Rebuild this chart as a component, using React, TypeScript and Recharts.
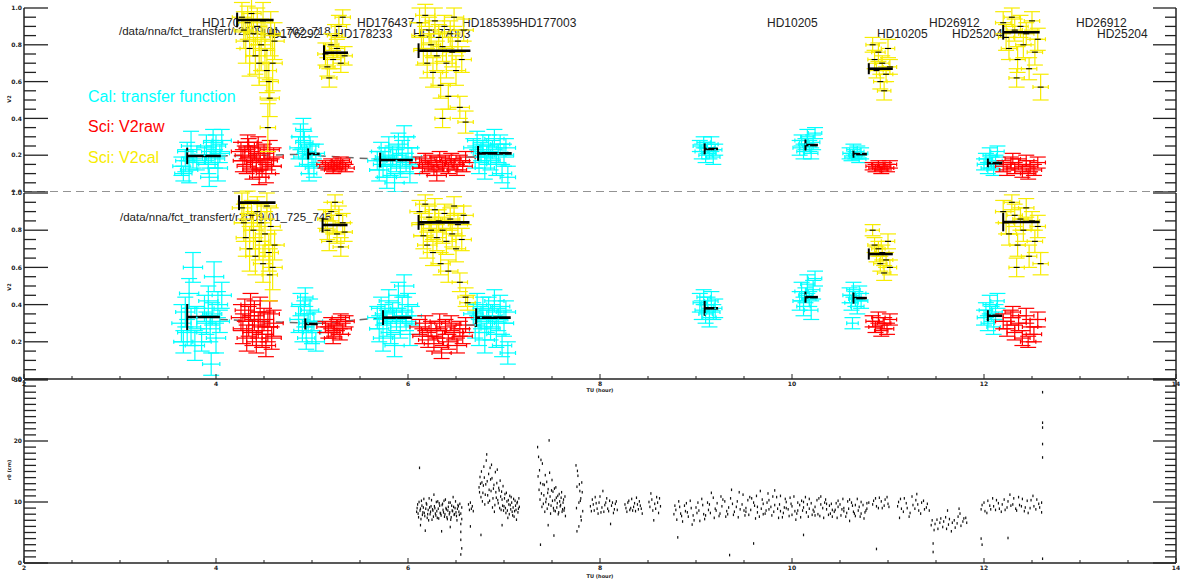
import React from 'react';
import { ComposedChart, Scatter, Line, XAxis, YAxis, ErrorBar, ReferenceLine } from 'recharts';

// [hour, V2, x error (h), y error]
type Pt = [number, number, number, number];

const CYAN = '#00ffff';
const RED = '#ff0000';
const YELLOW = '#f7ec00';
const AXIS = '#222';

const hourTicks = [2, 2.5, 3, 3.5, 4, 4.5, 5, 5.5, 6, 6.5, 7, 7.5, 8, 8.5, 9, 9.5, 10, 10.5, 11, 11.5, 12, 12.5, 13, 13.5, 14];
const hourLabels = [2, 4, 6, 8, 10, 12, 14];
const v2Ticks = [0, 0.05, 0.1, 0.15, 0.2, 0.25, 0.3, 0.35, 0.4, 0.45, 0.5, 0.55, 0.6, 0.65, 0.7, 0.75, 0.8, 0.85, 0.9, 0.95, 1];
const v2Labels = [0, 0.2, 0.4, 0.6, 0.8, 1];
const r0Ticks = [0, 1, 2, 3, 4, 5, 6, 7, 8, 9, 10, 11, 12, 13, 14, 15, 16, 17, 18, 19, 20, 21, 22, 23, 24, 25, 26, 27, 28, 29, 30];
const r0Labels = [0, 10, 20, 30];

// ---------- upper panel ----------
const calTop: Pt[] = [
  [3.64,0.14,0.09,0.05],[3.66,0.1,0.09,0.04],[3.68,0.17,0.1,0.06],[3.7,0.22,0.1,0.05],[3.72,0.12,0.09,0.07],[3.74,0.25,0.1,0.08],[3.76,0.18,0.1,0.05],[3.8,0.16,0.09,0.04],[3.88,0.2,0.1,0.05],[3.9,0.24,0.1,0.07],[3.92,0.15,0.1,0.05],[3.95,0.22,0.1,0.06],[3.97,0.27,0.1,0.07],[3.99,0.18,0.1,0.05],[4.0,0.25,0.1,0.06],[4.02,0.13,0.1,0.07],[4.04,0.21,0.1,0.05],[4.06,0.28,0.1,0.06],[3.93,0.08,0.09,0.05],
  [4.86,0.24,0.09,0.06],[4.88,0.3,0.09,0.07],[4.9,0.19,0.09,0.05],[4.92,0.27,0.09,0.06],[4.94,0.22,0.09,0.04],[4.96,0.15,0.09,0.05],[4.98,0.25,0.09,0.05],[5.0,0.2,0.09,0.06],[5.02,0.13,0.09,0.05],[5.04,0.21,0.09,0.05],[4.91,0.34,0.08,0.06],[4.97,0.1,0.08,0.04],
  [5.68,0.17,0.1,0.05],[5.7,0.12,0.1,0.06],[5.72,0.22,0.1,0.05],[5.74,0.15,0.1,0.07],[5.76,0.19,0.1,0.05],[5.78,0.08,0.1,0.06],[5.8,0.24,0.1,0.06],[5.82,0.14,0.1,0.05],[5.84,0.2,0.1,0.05],[5.86,0.05,0.1,0.05],[5.88,0.17,0.1,0.06],[5.9,0.26,0.1,0.06],[5.92,0.13,0.1,0.05],[5.94,0.21,0.1,0.07],[5.96,0.3,0.1,0.06],[5.98,0.16,0.1,0.05],[6.0,0.24,0.1,0.06],[6.02,0.1,0.1,0.05],[6.04,0.19,0.1,0.05],
  [6.68,0.24,0.1,0.05],[6.7,0.19,0.1,0.06],[6.72,0.28,0.1,0.05],[6.74,0.16,0.1,0.06],[6.76,0.22,0.1,0.05],[6.78,0.26,0.1,0.05],[6.8,0.13,0.1,0.06],[6.82,0.2,0.1,0.05],[6.84,0.25,0.1,0.06],[6.86,0.17,0.1,0.05],[6.88,0.23,0.1,0.05],[6.9,0.29,0.1,0.05],[6.92,0.15,0.1,0.06],[6.94,0.21,0.1,0.05],[6.96,0.26,0.1,0.05],[6.98,0.1,0.1,0.05],[7.0,0.2,0.1,0.06],[7.02,0.24,0.1,0.05],[7.04,0.08,0.08,0.06],
  [9.04,0.25,0.07,0.03],[9.06,0.22,0.07,0.04],[9.08,0.27,0.07,0.03],[9.1,0.2,0.07,0.04],[9.12,0.24,0.07,0.03],[9.14,0.21,0.07,0.03],[9.16,0.26,0.07,0.04],[9.18,0.19,0.07,0.04],[9.2,0.23,0.07,0.03],
  [10.08,0.24,0.07,0.04],[10.1,0.28,0.07,0.03],[10.12,0.22,0.07,0.04],[10.14,0.26,0.07,0.03],[10.16,0.3,0.07,0.04],[10.18,0.25,0.07,0.03],[10.2,0.21,0.07,0.03],[10.22,0.27,0.07,0.04],[10.24,0.32,0.07,0.03],
  [10.6,0.21,0.07,0.03],[10.62,0.19,0.07,0.02],[10.64,0.23,0.07,0.03],[10.66,0.2,0.07,0.02],[10.68,0.22,0.07,0.03],[10.7,0.18,0.07,0.02],[10.72,0.21,0.07,0.03],
  [12.0,0.15,0.07,0.03],[12.02,0.18,0.07,0.03],[12.04,0.13,0.07,0.03],[12.06,0.2,0.07,0.04],[12.08,0.16,0.07,0.03],[12.1,0.12,0.07,0.03],[12.12,0.17,0.07,0.03],[12.14,0.22,0.07,0.03],
];
const rawTop: Pt[] = [
  [4.26,0.22,0.1,0.05],[4.28,0.17,0.1,0.06],[4.3,0.2,0.1,0.05],[4.32,0.14,0.1,0.04],[4.34,0.24,0.1,0.05],[4.36,0.19,0.1,0.06],[4.38,0.12,0.1,0.05],[4.4,0.22,0.1,0.05],[4.42,0.16,0.1,0.05],[4.44,0.25,0.1,0.05],[4.46,0.18,0.1,0.06],[4.48,0.13,0.1,0.05],[4.5,0.21,0.1,0.05],[4.52,0.1,0.1,0.05],[4.54,0.17,0.1,0.05],[4.56,0.23,0.1,0.05],[4.58,0.14,0.1,0.04],[4.6,0.19,0.1,0.05],[4.45,0.08,0.1,0.04],[4.33,0.27,0.1,0.04],
  [5.14,0.15,0.09,0.02],[5.17,0.14,0.09,0.02],[5.2,0.16,0.09,0.02],[5.23,0.13,0.09,0.02],[5.26,0.15,0.09,0.02],[5.29,0.14,0.09,0.02],[5.32,0.16,0.09,0.02],[5.35,0.13,0.09,0.02],[5.22,0.12,0.09,0.02],[5.3,0.17,0.09,0.02],
  [6.12,0.16,0.1,0.03],[6.15,0.13,0.1,0.03],[6.18,0.18,0.1,0.03],[6.21,0.14,0.1,0.03],[6.24,0.17,0.1,0.03],[6.27,0.12,0.1,0.03],[6.3,0.16,0.1,0.03],[6.33,0.19,0.1,0.03],[6.36,0.14,0.1,0.03],[6.39,0.17,0.1,0.03],[6.42,0.13,0.1,0.03],[6.45,0.18,0.1,0.03],[6.48,0.15,0.1,0.03],[6.51,0.12,0.1,0.03],[6.54,0.17,0.1,0.03],[6.57,0.14,0.1,0.03],[6.6,0.19,0.1,0.03],[6.3,0.09,0.1,0.03],
  [10.84,0.14,0.07,0.02],[10.87,0.13,0.07,0.02],[10.9,0.15,0.07,0.02],[10.93,0.12,0.07,0.02],[10.96,0.14,0.07,0.02],[10.99,0.13,0.07,0.02],[11.02,0.15,0.07,0.02],
  [12.2,0.14,0.08,0.03],[12.24,0.12,0.08,0.03],[12.28,0.16,0.08,0.03],[12.32,0.13,0.08,0.03],[12.36,0.15,0.08,0.03],[12.4,0.11,0.08,0.03],[12.44,0.17,0.08,0.03],[12.48,0.14,0.08,0.03],[12.52,0.12,0.08,0.03],[12.56,0.16,0.08,0.03],[12.3,0.18,0.08,0.03],[12.46,0.1,0.08,0.03],
];
const v2calTop: Pt[] = [
  [4.27,0.95,0.1,0.08],[4.29,0.88,0.1,0.1],[4.31,0.82,0.1,0.12],[4.33,0.92,0.1,0.09],[4.35,0.78,0.1,0.15],[4.37,0.97,0.1,0.1],[4.39,0.86,0.1,0.12],[4.41,0.74,0.1,0.1],[4.43,0.9,0.1,0.1],[4.45,0.7,0.1,0.12],[4.47,0.8,0.1,0.14],[4.49,0.93,0.1,0.1],[4.51,0.77,0.1,0.15],[4.53,0.66,0.1,0.12],[4.55,0.6,0.1,0.1],[4.56,0.51,0.1,0.1],[4.57,0.86,0.1,0.12],[4.54,0.35,0.08,0.13],[4.59,0.7,0.1,0.15],[4.61,0.82,0.1,0.1],
  [5.14,0.75,0.08,0.06],[5.16,0.68,0.08,0.05],[5.18,0.62,0.08,0.05],[5.2,0.8,0.08,0.06],[5.22,0.72,0.08,0.05],[5.24,0.85,0.08,0.06],[5.26,0.78,0.08,0.05],[5.28,0.9,0.08,0.06],[5.3,0.7,0.08,0.05],[5.32,0.95,0.08,0.04],[5.34,0.74,0.08,0.05],
  [6.12,0.92,0.1,0.08],[6.14,0.85,0.1,0.07],[6.16,0.77,0.1,0.08],[6.18,0.96,0.1,0.06],[6.2,0.7,0.1,0.08],[6.22,0.88,0.1,0.07],[6.24,0.8,0.1,0.06],[6.26,0.65,0.1,0.08],[6.28,0.93,0.1,0.07],[6.3,0.74,0.1,0.08],[6.32,0.84,0.1,0.07],[6.34,0.58,0.1,0.07],[6.36,0.79,0.1,0.08],[6.38,0.9,0.1,0.06],[6.4,0.7,0.1,0.08],[6.42,0.52,0.1,0.07],[6.44,0.86,0.1,0.07],[6.46,0.76,0.1,0.08],[6.48,0.95,0.1,0.05],[6.5,0.66,0.1,0.08],[6.52,0.82,0.1,0.06],[6.54,0.46,0.1,0.06],[6.56,0.72,0.1,0.07],[6.58,0.88,0.1,0.06],[6.6,0.38,0.08,0.06],[6.36,0.4,0.08,0.05],
  [10.84,0.8,0.07,0.04],[10.86,0.72,0.07,0.05],[10.88,0.66,0.07,0.04],[10.9,0.76,0.07,0.05],[10.92,0.6,0.07,0.04],[10.94,0.7,0.07,0.04],[10.96,0.55,0.07,0.05],[10.98,0.64,0.07,0.04],[11.0,0.78,0.07,0.05],[11.02,0.68,0.07,0.04],
  [12.2,0.92,0.08,0.06],[12.23,0.84,0.08,0.07],[12.26,0.78,0.08,0.06],[12.29,0.95,0.08,0.05],[12.32,0.88,0.08,0.06],[12.35,0.72,0.08,0.07],[12.38,0.9,0.08,0.06],[12.41,0.8,0.08,0.07],[12.44,0.86,0.08,0.06],[12.47,0.67,0.08,0.06],[12.5,0.93,0.08,0.05],[12.53,0.76,0.08,0.07],[12.56,0.83,0.08,0.06],[12.59,0.57,0.08,0.07],[12.34,0.62,0.08,0.05],
];
// [start hour, V2, span (h), half height]
const meanTop: Pt[] = [
  [3.7,0.196,0.35,0.045],[4.22,0.935,0.38,0.04],[4.96,0.207,0.12,0.03],[5.125,0.757,0.25,0.04],[5.71,0.174,0.34,0.04],[6.11,0.768,0.54,0.04],[6.73,0.21,0.35,0.04],
  [9.09,0.234,0.14,0.03],[10.14,0.255,0.13,0.03],[10.64,0.206,0.14,0.02],[10.8,0.67,0.25,0.03],[12.04,0.157,0.15,0.025],[12.2,0.868,0.38,0.04],
];
const tfTop: [number, number][] = [[4.04,0.196],[4.96,0.205],[5.11,0.195],[5.71,0.178]];

// ---------- middle panel ----------
const calMid: Pt[] = [
  [3.64,0.3,0.1,0.1],[3.66,0.2,0.1,0.06],[3.68,0.36,0.1,0.08],[3.7,0.25,0.1,0.07],[3.72,0.46,0.1,0.08],[3.74,0.28,0.1,0.1],[3.76,0.6,0.1,0.08],[3.78,0.18,0.1,0.08],[3.8,0.33,0.1,0.06],[3.88,0.38,0.1,0.07],[3.9,0.3,0.1,0.06],[3.92,0.42,0.1,0.08],[3.94,0.27,0.1,0.07],[3.96,0.35,0.1,0.06],[3.98,0.55,0.1,0.08],[4.0,0.22,0.1,0.08],[4.02,0.4,0.1,0.07],[4.04,0.31,0.1,0.06],[4.06,0.45,0.1,0.07],[3.95,0.08,0.09,0.06],[3.85,0.2,0.1,0.05],
  [4.86,0.32,0.09,0.07],[4.88,0.4,0.09,0.06],[4.9,0.26,0.09,0.06],[4.92,0.35,0.09,0.07],[4.94,0.22,0.09,0.06],[4.96,0.3,0.09,0.05],[4.98,0.37,0.09,0.06],[5.0,0.25,0.09,0.06],[5.02,0.31,0.09,0.05],[5.04,0.2,0.09,0.05],[4.93,0.44,0.08,0.05],
  [5.68,0.33,0.1,0.06],[5.7,0.27,0.1,0.07],[5.72,0.38,0.1,0.06],[5.74,0.22,0.1,0.07],[5.76,0.35,0.1,0.05],[5.78,0.3,0.1,0.07],[5.8,0.42,0.1,0.06],[5.82,0.25,0.1,0.06],[5.84,0.36,0.1,0.05],[5.86,0.18,0.1,0.06],[5.88,0.32,0.1,0.06],[5.9,0.45,0.1,0.07],[5.92,0.28,0.1,0.06],[5.94,0.37,0.1,0.07],[5.96,0.5,0.1,0.06],[5.98,0.31,0.1,0.05],[6.0,0.4,0.1,0.06],[6.02,0.24,0.1,0.06],[6.04,0.34,0.1,0.05],
  [6.68,0.35,0.1,0.06],[6.7,0.29,0.1,0.07],[6.72,0.4,0.1,0.06],[6.74,0.25,0.1,0.07],[6.76,0.33,0.1,0.06],[6.78,0.38,0.1,0.06],[6.8,0.21,0.1,0.07],[6.82,0.31,0.1,0.06],[6.84,0.37,0.1,0.07],[6.86,0.27,0.1,0.06],[6.88,0.34,0.1,0.06],[6.9,0.42,0.1,0.06],[6.92,0.24,0.1,0.07],[6.94,0.32,0.1,0.06],[6.96,0.39,0.1,0.06],[6.98,0.18,0.1,0.06],[7.0,0.3,0.1,0.07],[7.02,0.36,0.1,0.06],[7.04,0.14,0.08,0.06],
  [9.04,0.41,0.07,0.05],[9.06,0.37,0.07,0.05],[9.08,0.44,0.07,0.04],[9.1,0.35,0.07,0.05],[9.12,0.4,0.07,0.04],[9.14,0.33,0.07,0.05],[9.16,0.42,0.07,0.05],[9.18,0.36,0.07,0.04],[9.2,0.38,0.07,0.05],
  [10.08,0.42,0.07,0.05],[10.1,0.47,0.07,0.05],[10.12,0.39,0.07,0.05],[10.14,0.45,0.07,0.04],[10.16,0.51,0.07,0.05],[10.18,0.43,0.07,0.04],[10.2,0.37,0.07,0.05],[10.22,0.48,0.07,0.05],[10.24,0.54,0.07,0.04],
  [10.6,0.45,0.07,0.04],[10.62,0.41,0.07,0.04],[10.64,0.48,0.07,0.04],[10.66,0.43,0.07,0.04],[10.68,0.39,0.07,0.04],[10.7,0.46,0.07,0.04],[10.72,0.42,0.07,0.04],[10.63,0.3,0.06,0.03],
  [12.0,0.33,0.07,0.04],[12.02,0.37,0.07,0.04],[12.04,0.3,0.07,0.04],[12.06,0.4,0.07,0.05],[12.08,0.35,0.07,0.04],[12.1,0.28,0.07,0.04],[12.12,0.36,0.07,0.04],[12.14,0.42,0.07,0.04],
];
const rawMid: Pt[] = [
  [4.26,0.33,0.1,0.07],[4.28,0.27,0.1,0.08],[4.3,0.37,0.1,0.06],[4.32,0.22,0.1,0.07],[4.34,0.31,0.1,0.08],[4.36,0.4,0.1,0.06],[4.38,0.25,0.1,0.07],[4.4,0.34,0.1,0.08],[4.42,0.2,0.1,0.06],[4.44,0.29,0.1,0.07],[4.46,0.36,0.1,0.08],[4.48,0.24,0.1,0.07],[4.5,0.32,0.1,0.06],[4.52,0.18,0.1,0.06],[4.54,0.28,0.1,0.08],[4.56,0.35,0.1,0.07],[4.58,0.22,0.1,0.06],[4.6,0.3,0.1,0.07],
  [5.14,0.28,0.09,0.03],[5.17,0.25,0.09,0.03],[5.2,0.3,0.09,0.03],[5.23,0.26,0.09,0.03],[5.26,0.29,0.09,0.03],[5.29,0.24,0.09,0.03],[5.32,0.27,0.09,0.03],[5.35,0.31,0.09,0.03],[5.22,0.22,0.09,0.03],[5.3,0.33,0.09,0.02],
  [6.12,0.28,0.1,0.04],[6.15,0.23,0.1,0.04],[6.18,0.3,0.1,0.04],[6.21,0.21,0.1,0.04],[6.24,0.27,0.1,0.04],[6.27,0.19,0.1,0.04],[6.3,0.26,0.1,0.04],[6.33,0.31,0.1,0.04],[6.36,0.22,0.1,0.04],[6.39,0.28,0.1,0.04],[6.42,0.2,0.1,0.04],[6.45,0.3,0.1,0.04],[6.48,0.25,0.1,0.04],[6.51,0.18,0.1,0.04],[6.54,0.27,0.1,0.04],[6.57,0.23,0.1,0.04],[6.6,0.29,0.1,0.04],[6.35,0.14,0.1,0.03],
  [10.84,0.31,0.07,0.03],[10.87,0.28,0.07,0.03],[10.9,0.33,0.07,0.03],[10.93,0.26,0.07,0.03],[10.96,0.3,0.07,0.03],[10.99,0.27,0.07,0.03],[11.02,0.32,0.07,0.03],
  [12.2,0.31,0.08,0.04],[12.24,0.27,0.08,0.04],[12.28,0.33,0.08,0.04],[12.32,0.25,0.08,0.04],[12.36,0.3,0.08,0.04],[12.4,0.22,0.08,0.04],[12.44,0.34,0.08,0.04],[12.48,0.28,0.08,0.04],[12.52,0.24,0.08,0.04],[12.56,0.32,0.08,0.04],[12.3,0.36,0.08,0.03],[12.46,0.2,0.08,0.03],
];
const v2calMid: Pt[] = [
  [4.27,0.92,0.1,0.08],[4.29,0.84,0.1,0.1],[4.31,0.76,0.1,0.1],[4.33,0.95,0.1,0.06],[4.35,0.7,0.1,0.12],[4.37,0.88,0.1,0.08],[4.39,0.8,0.1,0.1],[4.41,0.66,0.1,0.1],[4.43,0.9,0.1,0.08],[4.45,0.74,0.1,0.1],[4.47,0.84,0.1,0.1],[4.49,0.62,0.1,0.1],[4.51,0.78,0.1,0.12],[4.53,0.93,0.1,0.07],[4.55,0.68,0.1,0.1],[4.57,0.82,0.1,0.1],[4.59,0.6,0.1,0.12],[4.61,0.72,0.1,0.08],[4.56,0.56,0.08,0.14],
  [5.14,0.86,0.08,0.05],[5.16,0.8,0.08,0.05],[5.18,0.74,0.08,0.05],[5.2,0.9,0.08,0.05],[5.22,0.83,0.08,0.05],[5.24,0.95,0.08,0.04],[5.26,0.78,0.08,0.05],[5.28,0.88,0.08,0.05],[5.3,0.71,0.08,0.05],[5.32,0.84,0.08,0.05],[5.34,0.79,0.08,0.05],
  [6.12,0.9,0.1,0.06],[6.14,0.83,0.1,0.06],[6.16,0.77,0.1,0.07],[6.18,0.94,0.1,0.05],[6.2,0.72,0.1,0.07],[6.22,0.87,0.1,0.06],[6.24,0.8,0.1,0.06],[6.26,0.68,0.1,0.07],[6.28,0.91,0.1,0.06],[6.3,0.76,0.1,0.07],[6.32,0.85,0.1,0.06],[6.34,0.62,0.1,0.06],[6.36,0.8,0.1,0.07],[6.38,0.89,0.1,0.05],[6.4,0.74,0.1,0.07],[6.42,0.58,0.1,0.06],[6.44,0.86,0.1,0.06],[6.46,0.78,0.1,0.07],[6.48,0.93,0.1,0.05],[6.5,0.7,0.1,0.07],[6.52,0.83,0.1,0.06],[6.54,0.52,0.08,0.05],[6.56,0.75,0.1,0.06],[6.58,0.88,0.1,0.05],[6.6,0.44,0.08,0.05],[6.62,0.41,0.08,0.04],
  [10.84,0.8,0.07,0.03],[10.86,0.72,0.07,0.04],[10.88,0.67,0.07,0.04],[10.9,0.7,0.07,0.04],[10.92,0.62,0.07,0.04],[10.94,0.68,0.07,0.04],[10.96,0.57,0.07,0.04],[10.98,0.64,0.07,0.04],[11.0,0.74,0.07,0.04],[11.02,0.6,0.07,0.04],
  [12.2,0.9,0.08,0.06],[12.23,0.84,0.08,0.06],[12.26,0.78,0.08,0.06],[12.29,0.95,0.08,0.04],[12.32,0.88,0.08,0.06],[12.35,0.72,0.08,0.06],[12.38,0.86,0.08,0.06],[12.41,0.8,0.08,0.06],[12.44,0.92,0.08,0.05],[12.47,0.66,0.08,0.06],[12.5,0.85,0.08,0.05],[12.53,0.74,0.08,0.06],[12.56,0.82,0.08,0.06],[12.59,0.62,0.08,0.06],[12.34,0.6,0.08,0.05],
];
const meanMid: Pt[] = [
  [3.7,0.333,0.34,0.07],[4.24,0.948,0.38,0.04],[4.93,0.296,0.13,0.03],[5.11,0.828,0.26,0.04],[5.74,0.33,0.3,0.04],[6.11,0.842,0.53,0.04],[6.71,0.33,0.36,0.05],
  [9.09,0.38,0.14,0.04],[10.14,0.44,0.13,0.03],[10.64,0.435,0.14,0.03],[10.8,0.672,0.25,0.03],[12.04,0.34,0.15,0.03],[12.2,0.844,0.38,0.05],
];
const tfMid: [number, number][] = [[4.04,0.32],[4.93,0.3],[5.11,0.3],[5.74,0.33]];

// ---------- lower panel: r0 (cm) ----------
const r0Early: [number, number][] = [
  [6.09,8.4],[6.1,9.6],[6.11,7.5],[6.12,15.6],[6.13,8.9],[6.14,10.2],[6.15,7.9],[6.16,9.1],[6.17,8.2],[6.18,5.3],[6.19,9.8],[6.2,7.4],[6.21,8.7],[6.22,10.6],[6.23,8.0],[6.24,9.3],[6.25,7.1],[6.26,8.6],[6.27,11.2],[6.28,9.0],[6.29,7.8],[6.3,8.5],[6.31,10.1],[6.32,7.3],[6.33,9.4],[6.34,8.1],[6.35,5.2],[6.36,9.7],[6.37,8.3],[6.38,7.6],[6.39,10.4],[6.4,8.8],[6.41,7.2],[6.42,9.2],[6.43,8.0],[6.44,9.9],[6.45,7.5],[6.46,8.6],[6.47,10.8],[6.48,7.9],[6.49,9.0],[6.5,8.3],[6.51,7.0],[6.52,9.5],[6.53,8.4],[6.54,9.7],
  [6.55,8.1],[6.55,6.4],[6.55,5.1],[6.55,3.8],[6.56,2.4],[6.55,1.4],[6.56,7.2],[6.56,9.1],
  [6.63,9.6],[6.64,8.7],[6.65,9.9],[6.66,8.9],[6.67,9.3],[6.68,8.5],[6.65,6.0],
  [6.74,12.4],[6.75,14.1],[6.76,10.8],[6.77,13.2],[6.78,11.5],[6.79,15.8],[6.8,9.6],[6.81,12.9],[6.82,17.8],[6.83,11.1],[6.84,14.6],[6.85,10.2],[6.86,13.7],[6.87,16.1],[6.88,9.1],[6.89,12.2],[6.9,8.4],[6.91,14.9],[6.92,10.7],[6.93,15.3],[6.94,9.8],[6.95,11.9],[6.96,13.5],[6.97,8.7],[6.98,10.4],[6.99,12.6],[7.0,9.3],[7.01,11.3],[7.02,8.2],[7.03,10.1],[7.04,7.4],[7.05,9.6],[7.06,11.0],[7.07,8.8],[7.08,9.9],[7.09,7.8],[7.1,10.5],[7.11,8.5],[7.12,9.4],[7.13,7.1],[7.14,10.0],[7.15,8.9],[7.16,9.2],[6.76,4.6],[6.98,6.2],
  [7.35,19.0],[7.36,17.4],[7.37,15.2],[7.38,13.1],[7.39,11.4],[7.4,16.3],[7.41,9.7],[7.42,12.8],[7.43,14.4],[7.44,10.5],[7.45,8.9],[7.46,12.1],[7.47,20.1],[7.48,10.9],[7.49,9.4],[7.5,13.6],[7.51,11.7],[7.52,8.6],[7.53,10.3],[7.54,12.4],[7.55,9.1],[7.56,11.0],[7.57,8.3],[7.58,10.1],[7.59,9.5],[7.6,11.6],[7.61,8.8],[7.62,10.4],[7.63,9.0],[7.64,7.7],[7.46,6.2],[7.52,4.5],[7.38,3.0],
  [7.75,16.0],[7.76,12.5],[7.77,14.3],[7.78,9.9],[7.79,11.8],[7.8,7.6],[7.81,13.2],[7.82,8.5],[7.78,6.0],[7.76,5.2],[7.8,10.6],
];
const r0EarlyFill: [number, number][] = [
  [6.095,9.0],[6.105,8.1],[6.115,10.0],[6.125,8.6],[6.135,7.2],[6.145,9.4],[6.155,8.3],[6.165,10.5],[6.175,7.7],[6.185,8.9],[6.195,9.6],[6.205,8.0],[6.215,7.0],[6.225,9.1],[6.235,8.4],[6.245,10.3],[6.255,8.8],[6.265,7.6],[6.275,9.3],[6.285,8.1],[6.295,10.0],[6.305,7.4],[6.315,8.9],[6.325,9.8],[6.335,8.2],[6.345,7.8],[6.355,9.5],[6.365,8.7],[6.375,10.2],[6.385,8.0],[6.395,9.0],[6.405,7.5],[6.415,8.6],[6.425,9.9],[6.435,8.3],[6.445,7.1],[6.455,9.4],[6.465,8.5],[6.475,9.2],[6.485,8.0],[6.495,10.1],[6.505,7.7],[6.515,8.9],[6.525,9.3],[6.535,7.9],[6.13,6.2],[6.44,5.9],
  [6.745,11.6],[6.755,13.0],[6.765,15.0],[6.775,10.1],[6.785,12.7],[6.795,14.0],[6.805,11.2],[6.815,16.8],[6.825,13.4],[6.835,9.9],[6.845,12.0],[6.855,15.6],[6.865,11.8],[6.875,13.9],[6.885,10.6],[6.895,12.8],[6.905,9.5],[6.915,11.6],[6.925,13.1],[6.935,10.3],[6.945,12.3],[6.955,9.0],[6.965,10.9],[6.975,11.7],[6.985,9.4],[6.995,8.6],[7.005,10.6],[7.015,9.0],[7.025,11.5],[7.035,8.6],[7.045,10.3],[7.055,8.0],[7.065,9.5],[7.075,10.8],[7.085,8.4],[7.095,9.1],[7.105,7.6],[7.115,10.2],[7.125,8.7],[7.135,9.8],[7.145,8.3],[7.155,10.6],
  [7.355,14.2],[7.365,12.0],[7.375,10.4],[7.385,16.9],[7.395,9.2],[7.405,12.9],[7.415,11.1],[7.425,8.4],[7.435,10.0],[7.445,13.3],[7.455,11.5],[7.465,9.6],[7.475,14.8],[7.485,8.1],[7.495,11.9],[7.505,10.2],[7.515,9.0],[7.525,12.2],[7.535,8.5],[7.545,10.7],[7.555,9.8],[7.565,8.0],[7.575,11.3],[7.585,9.3],[7.595,10.7],[7.605,8.4],[7.615,9.9],[7.625,8.6],[7.635,10.9],
  [7.755,9.0],[7.765,15.1],[7.785,12.9],[7.795,10.2],[7.805,7.0],[7.815,11.6],
];
const r0Mid: [number, number][] = [
  [7.9,9.3],[7.92,10.4],[7.94,8.6],[7.96,9.8],[7.98,8.1],[8.0,10.9],[8.02,9.1],[8.04,8.4],[8.06,9.9],[8.08,8.9],[8.1,10.2],[8.12,9.4],[8.14,8.2],[8.16,9.7],[8.18,8.7],[8.03,11.8],[8.11,6.4],
  [8.26,9.6],[8.28,8.4],[8.3,10.2],[8.32,9.0],[8.34,8.6],[8.36,9.8],[8.38,10.7],[8.4,8.8],[8.42,9.4],[8.44,8.1],
  [8.51,10.0],[8.53,11.4],[8.55,8.6],[8.57,9.7],[8.59,10.8],[8.61,8.2],[8.63,9.3],[8.56,7.0],
  [8.77,8.0],[8.8,7.1],[8.83,9.2],[8.86,6.8],[8.89,8.5],[8.92,7.6],[8.95,9.0],[8.98,7.0],[9.01,8.2],[9.04,6.9],[9.07,9.5],[9.1,7.8],[9.13,8.7],[9.16,11.5],[9.19,7.4],[9.22,9.8],[9.25,8.1],[9.28,10.4],[9.31,7.6],[9.34,9.1],[9.37,12.0],[9.4,8.4],[9.43,10.1],[9.46,8.8],[9.49,11.2],[9.52,9.0],[9.55,7.9],[9.58,10.6],[9.61,9.4],[9.64,8.3],[9.67,11.8],[9.7,9.7],[9.73,8.6],[9.76,10.3],[9.79,7.8],[9.82,9.5],[9.85,8.9],[9.88,11.0],[9.91,8.2],[9.94,10.0],[9.97,7.7],[10.0,9.3],[10.03,8.5],[10.06,9.9],[10.09,7.5],[10.12,9.1],[10.15,8.3],[10.18,10.5],[10.21,7.9],[10.24,9.2],[10.27,8.0],[10.3,9.6],[10.33,7.4],[10.36,8.8],[10.39,9.4],[10.42,7.6],[10.45,8.7],[10.48,10.2],[10.51,7.8],[10.54,9.0],[10.57,8.2],[10.6,6.9],[10.63,9.4],[10.66,7.7],[10.69,8.6],[10.72,10.0],[10.75,7.3],[10.78,8.9],
  [8.78,9.4],[8.84,8.1],[8.9,9.8],[8.96,6.3],[9.02,9.9],[9.08,8.0],[9.14,9.6],[9.2,8.9],[9.26,10.9],[9.32,8.5],[9.38,9.7],[9.44,7.5],[9.5,8.6],[9.56,10.8],[9.62,7.3],[9.68,8.9],[9.74,9.9],[9.8,10.9],[9.86,7.4],[9.92,9.1],[9.98,10.7],[10.04,7.1],[10.1,10.2],[10.16,9.6],[10.22,8.7],[10.28,10.6],[10.34,9.9],[10.4,8.1],[10.46,9.8],[10.52,8.8],[10.58,10.1],[10.64,8.4],[10.7,9.2],[10.76,8.3],[8.81,4.2],[9.35,1.3],[9.6,3.2],[10.12,4.6],
];
const r0MidFill: [number, number][] = [
  [7.91,8.5],[7.93,9.6],[7.95,10.8],[7.97,8.9],[7.99,9.9],[8.01,8.3],[8.05,9.5],[8.07,10.6],[8.09,8.5],[8.13,9.9],[8.15,8.8],[8.17,10.1],[8.27,9.0],[8.29,9.9],[8.31,8.7],[8.33,10.5],[8.35,9.2],[8.37,8.5],[8.39,9.6],[8.41,10.1],[8.43,8.9],[8.52,9.2],[8.54,10.4],[8.58,8.9],[8.6,9.9],[8.62,10.6],
  [8.79,8.7],[8.82,10.1],[8.85,7.7],[8.88,9.4],[8.91,8.3],[8.94,10.2],[8.97,7.8],[9.0,9.1],[9.03,8.6],[9.06,10.5],[9.09,7.2],[9.12,9.9],[9.15,8.2],[9.18,10.7],[9.21,8.6],[9.24,7.7],[9.27,9.3],[9.3,10.1],[9.33,8.0],[9.36,10.6],[9.39,7.9],[9.42,9.2],[9.45,11.6],[9.48,9.6],[9.51,7.8],[9.54,10.3],[9.57,8.7],[9.6,9.9],[9.63,11.0],[9.66,7.6],[9.69,10.4],[9.72,8.1],[9.75,11.4],[9.78,9.2],[9.81,8.4],[9.84,10.8],[9.87,9.6],[9.9,7.5],[9.93,10.5],[9.96,8.8],[9.99,9.7],[10.02,10.9],[10.05,8.1],[10.08,9.5],[10.11,8.6],[10.14,10.8],[10.17,7.6],[10.2,9.8],[10.23,8.4],[10.26,10.3],[10.29,7.7],[10.32,9.0],[10.35,10.4],[10.38,7.9],[10.41,9.7],[10.44,8.4],[10.47,7.4],[10.5,9.6],[10.53,10.5],[10.56,7.6],[10.59,8.9],[10.62,9.9],[10.65,8.1],[10.68,10.5],[10.71,7.6],[10.74,9.5],[10.77,8.6],[10.8,9.9],
  [9.52,8.4],[9.64,9.2],[9.7,8.0],[9.76,8.8],[9.82,11.9],[9.88,8.5],[9.94,9.0],[10.0,7.9],[10.06,8.6],[10.12,10.0],[10.18,8.9],[10.24,7.8],[10.3,10.9],[10.36,9.7],[10.42,8.7],[10.48,9.2],[10.54,8.5],[10.6,10.4],[10.66,9.5],[10.72,8.1],[10.78,9.8],
];
const r0Late: [number, number][] = [
  [10.84,9.6],[10.87,10.6],[10.9,9.0],[10.93,10.1],[10.96,9.4],[10.99,10.8],[11.01,9.2],[10.88,2.3],
  [11.1,9.3],[11.13,10.5],[11.16,8.4],[11.19,9.8],[11.22,7.6],[11.25,10.9],[11.28,8.9],[11.31,9.6],[11.34,8.1],[11.37,10.2],[11.4,9.1],[11.43,8.6],
  [11.45,6.2],[11.48,5.4],[11.51,7.1],[11.54,6.6],[11.57,5.9],[11.6,7.5],[11.63,6.3],[11.66,5.2],[11.69,7.0],[11.72,6.5],[11.75,8.1],[11.78,6.8],[11.81,7.4],[11.47,3.2],[11.47,1.8],
  [11.97,8.8],[12.0,9.9],[12.03,8.2],[12.06,9.4],[12.09,10.6],[12.12,8.7],[12.15,9.8],[12.18,8.4],[12.21,10.4],[12.24,9.1],[12.27,11.2],[12.3,9.6],[12.33,8.9],[12.36,10.8],[12.39,9.3],[12.42,8.5],[12.45,10.2],[12.48,9.0],[12.51,11.0],[12.54,8.8],[12.57,9.7],[12.6,8.3],[11.97,4.0],[11.98,3.0],[12.25,4.1],
  [12.61,28.0],[12.61,23.0],[12.61,22.2],[12.61,19.5],[12.61,17.3],[12.61,0.7],
];
const r0LateFill: [number, number][] = [
  [10.85,10.2],[10.88,9.3],[10.91,10.7],[10.94,9.0],[10.97,10.4],[11.0,9.7],
  [11.11,10.0],[11.14,8.9],[11.17,10.6],[11.2,9.0],[11.23,8.2],[11.26,9.5],[11.29,10.3],[11.32,8.6],[11.35,9.9],[11.38,8.8],[11.41,9.7],[11.12,7.4],[11.3,11.3],
  [11.46,7.0],[11.49,6.4],[11.52,5.6],[11.55,7.3],[11.58,6.8],[11.61,5.6],[11.64,7.2],[11.67,6.6],[11.7,5.8],[11.73,7.6],[11.76,6.1],[11.79,7.3],[11.82,6.6],[11.62,8.6],[11.74,8.9],
  [11.98,9.5],[12.01,8.5],[12.04,10.2],[12.07,8.8],[12.1,9.3],[12.13,10.3],[12.16,8.9],[12.19,9.6],[12.22,8.7],[12.25,10.1],[12.28,9.4],[12.31,10.6],[12.34,8.6],[12.37,9.5],[12.4,10.5],[12.43,9.1],[12.46,8.2],[12.49,10.3],[12.52,9.3],[12.55,10.4],[12.58,9.1],[12.6,9.9],
];

const rows = (a: Pt[]) => a.map(([h, v, ex, ey]) => ({ h, v, ex, ey }));
const meanRows = (a: Pt[]) => a.map(([h, v, span, ey]) => ({ h, v, ex: [0, span], ey }));
const lineRows = (a: [number, number][]) => a.map(([h, v]) => ({ h, v }));

const isIn = (list: number[], val: number) => list.some((l) => Math.abs(l - val) < 1e-6);

const leftTick = (labels: number[], fmt: (n: number) => string) => (p: any) => {
  const major = isIn(labels, p.payload.value);
  return (
    <g>
      <line x1={p.x} y1={p.y} x2={p.x + (major ? 24 : 12)} y2={p.y} stroke={AXIS} strokeWidth={1.3} />
      {major && (
        <text x={p.x - 2} y={p.y + 2.2} fontSize={6} fontWeight="bold" textAnchor="end" fill={AXIS} fontFamily="DejaVu Sans">
          {fmt(p.payload.value)}
        </text>
      )}
    </g>
  );
};

const rightTick = (labels: number[]) => (p: any) => {
  const major = isIn(labels, p.payload.value);
  return <line x1={p.x} y1={p.y} x2={p.x - (major ? 23 : 11)} y2={p.y} stroke={AXIS} strokeWidth={1.3} />;
};

const bottomTick = (p: any) => {
  const major = isIn(hourLabels, p.payload.value);
  return (
    <g>
      <line x1={p.x} y1={p.y} x2={p.x} y2={p.y - (major ? 5 : 3)} stroke={AXIS} strokeWidth={1} />
      {major && (
        <text x={p.x} y={p.y + 6.5} fontSize={6} fontWeight="bold" textAnchor="middle" fill={AXIS} fontFamily="DejaVu Sans">
          {p.payload.value}
        </text>
      )}
    </g>
  );
};

const cyanDot = (p: any) => <circle cx={p.cx} cy={p.cy} r={1} fill={CYAN} />;
const noDot = () => <g />;
const blackDash = (p: any) => <line x1={p.cx - 3} y1={p.cy} x2={p.cx + 3} y2={p.cy} stroke="#000" strokeWidth={1.1} />;
const r0Dot = (p: any) => <rect x={p.cx - 0.6} y={p.cy - 1.3} width={1.2} height={2.6} fill="#111" />;

const ErrSeries = (data: Pt[], color: string, shape: any, key: string) => (
  <Scatter key={key} yAxisId="l" data={rows(data)} dataKey="v" fill={color} shape={shape} isAnimationActive={false}>
    <ErrorBar dataKey="ey" direction="y" width={8} stroke={color} strokeWidth={1.2} isAnimationActive={false} />
    <ErrorBar dataKey="ex" direction="x" width={2} stroke={color} strokeWidth={1.2} isAnimationActive={false} />
  </Scatter>
);

const MeanSeries = (data: Pt[], key: string) => (
  <Scatter key={key} yAxisId="l" data={meanRows(data)} dataKey="v" shape={noDot} isAnimationActive={false}>
    <ErrorBar dataKey="ex" direction="x" width={0} stroke="#000" strokeWidth={2.6} isAnimationActive={false} />
    <ErrorBar dataKey="ey" direction="y" width={0} stroke="#000" strokeWidth={2} isAnimationActive={false} />
  </Scatter>
);

const V2Panel = ({ cal, raw, v2c, mean, tf, showX, height }: any) => (
  <ComposedChart width={1180} height={height} margin={{ top: 8, right: 0, bottom: 0, left: 0 }}>
    <XAxis
      dataKey="h" type="number" domain={[2, 14]} allowDataOverflow ticks={hourTicks} interval={0}
      hide={!showX} height={14} tickSize={0} tickMargin={0} tickLine={false}
      axisLine={{ stroke: AXIS, strokeWidth: 1.5 }} tick={bottomTick}
    />
    <YAxis
      yAxisId="l" dataKey="v" type="number" domain={[0, 1]} allowDataOverflow ticks={v2Ticks} interval={0}
      width={24} tickSize={0} tickMargin={0} tickLine={false}
      axisLine={{ stroke: AXIS, strokeWidth: 1.5 }} tick={leftTick(v2Labels, (n) => n.toFixed(1))}
    />
    <YAxis
      yAxisId="r" orientation="right" type="number" domain={[0, 1]} allowDataOverflow ticks={v2Ticks} interval={0}
      width={4} tickSize={0} tickMargin={0} tickLine={false}
      axisLine={{ stroke: AXIS, strokeWidth: 1.5 }} tick={rightTick(v2Labels)}
    />
    {!showX && <ReferenceLine yAxisId="l" y={0} stroke="#707070" strokeWidth={1.6} strokeDasharray="8 5" />}
    <Line yAxisId="l" data={lineRows(tf)} dataKey="v" stroke="#6a6a6a" strokeWidth={1.5} strokeDasharray="8 6" dot={false} isAnimationActive={false} />
    {ErrSeries(cal, CYAN, cyanDot, 'cal')}
    {ErrSeries(raw, RED, noDot, 'raw')}
    {ErrSeries(v2c, YELLOW, blackDash, 'v2c')}
    {MeanSeries(mean, 'mean')}
  </ComposedChart>
);

const HD_ROW1 = [
  ['HD170', 202], ['HD176437', 357], ['HD185395', 462], ['HD177003', 519],
  ['HD10205', 767], ['HD26912', 929], ['HD26912', 1076],
] as const;
const HD_ROW2 = [
  ['HD176292', 263], ['HD178233', 335], ['HD177003', 413],
  ['HD10205', 877], ['HD25204', 952], ['HD25204', 1097],
] as const;

export default function App() {
  const sans = 'Liberation Sans, Arial, sans-serif';
  return (
    <div style={{ position: 'absolute', left: 0, top: 0, width: 1180, height: 580, background: '#fff', overflow: 'hidden' }}>
      {/* text layer (drawn under the data, like the original) */}
      <svg width={1180} height={580} style={{ position: 'absolute', left: 0, top: 0 }}>
        <g fontFamily={sans} fontSize={12} fill="#222">
          {HD_ROW1.map(([t, x], i) => <text key={'a' + i} x={x} y={26.7}>{t}</text>)}
          {HD_ROW2.map(([t, x], i) => <text key={'b' + i} x={x} y={38.3}>{t}</text>)}
        </g>
        <text x={119} y={35} fontFamily={sans} fontSize={11.5} fill="#222">/data/nna/fct_transfert/r2009.01_702_718</text>
        <text x={120} y={221} fontFamily={sans} fontSize={11.5} fill="#222">/data/nna/fct_transfert/r2009.01_725_745</text>
        <g fontFamily={sans} fontSize={16}>
          <text x={88} y={101.5} fill={CYAN}>Cal: transfer function</text>
          <text x={88} y={131.5} fill={RED}>Sci: V2raw</text>
          <text x={88} y={163} fill={YELLOW}>Sci: V2cal</text>
        </g>
        <g fontFamily="DejaVu Sans" fontSize={5} fontWeight="bold" fill={AXIS} textAnchor="middle">
          <text transform="rotate(-90 11 99)" x={11} y={99}>V2</text>
          <text transform="rotate(-90 11 287)" x={11} y={287}>V2</text>
          <text transform="rotate(-90 11 470)" x={11} y={470}>r0 (cm)</text>
          <text x={600} y={392}>TU (hour)</text>
          <text x={600} y={578}>TU (hour)</text>
        </g>
      </svg>

      <div style={{ position: 'absolute', left: 0, top: 0 }}>
        <V2Panel cal={calTop} raw={rawTop} v2c={v2calTop} mean={meanTop} tf={tfTop} showX={false} height={192} />
      </div>
      <div style={{ position: 'absolute', left: 0, top: 185 }}>
        <V2Panel cal={calMid} raw={rawMid} v2c={v2calMid} mean={meanMid} tf={tfMid} showX={true} height={208} />
      </div>
      <div style={{ position: 'absolute', left: 0, top: 372 }}>
        <ComposedChart width={1180} height={205} margin={{ top: 8, right: 0, bottom: 0, left: 0 }}>
          <XAxis
            dataKey="h" type="number" domain={[2, 14]} allowDataOverflow ticks={hourTicks} interval={0}
            height={14} tickSize={0} tickMargin={0} tickLine={false}
            axisLine={{ stroke: AXIS, strokeWidth: 1.5 }} tick={bottomTick}
          />
          <YAxis
            yAxisId="l" dataKey="v" type="number" domain={[0, 30]} allowDataOverflow ticks={r0Ticks} interval={0}
            width={24} tickSize={0} tickMargin={0} tickLine={false}
            axisLine={{ stroke: AXIS, strokeWidth: 1.5 }} tick={leftTick(r0Labels, (n) => String(n))}
          />
          <YAxis
            yAxisId="r" orientation="right" type="number" domain={[0, 30]} allowDataOverflow ticks={r0Ticks} interval={0}
            width={4} tickSize={0} tickMargin={0} tickLine={false}
            axisLine={{ stroke: AXIS, strokeWidth: 1.5 }} tick={rightTick(r0Labels)}
          />
          <Scatter yAxisId="l" data={lineRows(r0Early)} dataKey="v" shape={r0Dot} isAnimationActive={false} />
          <Scatter yAxisId="l" data={lineRows(r0EarlyFill)} dataKey="v" shape={r0Dot} isAnimationActive={false} />
          <Scatter yAxisId="l" data={lineRows(r0Mid)} dataKey="v" shape={r0Dot} isAnimationActive={false} />
          <Scatter yAxisId="l" data={lineRows(r0MidFill)} dataKey="v" shape={r0Dot} isAnimationActive={false} />
          <Scatter yAxisId="l" data={lineRows(r0Late)} dataKey="v" shape={r0Dot} isAnimationActive={false} />
          <Scatter yAxisId="l" data={lineRows(r0LateFill)} dataKey="v" shape={r0Dot} isAnimationActive={false} />
        </ComposedChart>
      </div>
    </div>
  );
}
